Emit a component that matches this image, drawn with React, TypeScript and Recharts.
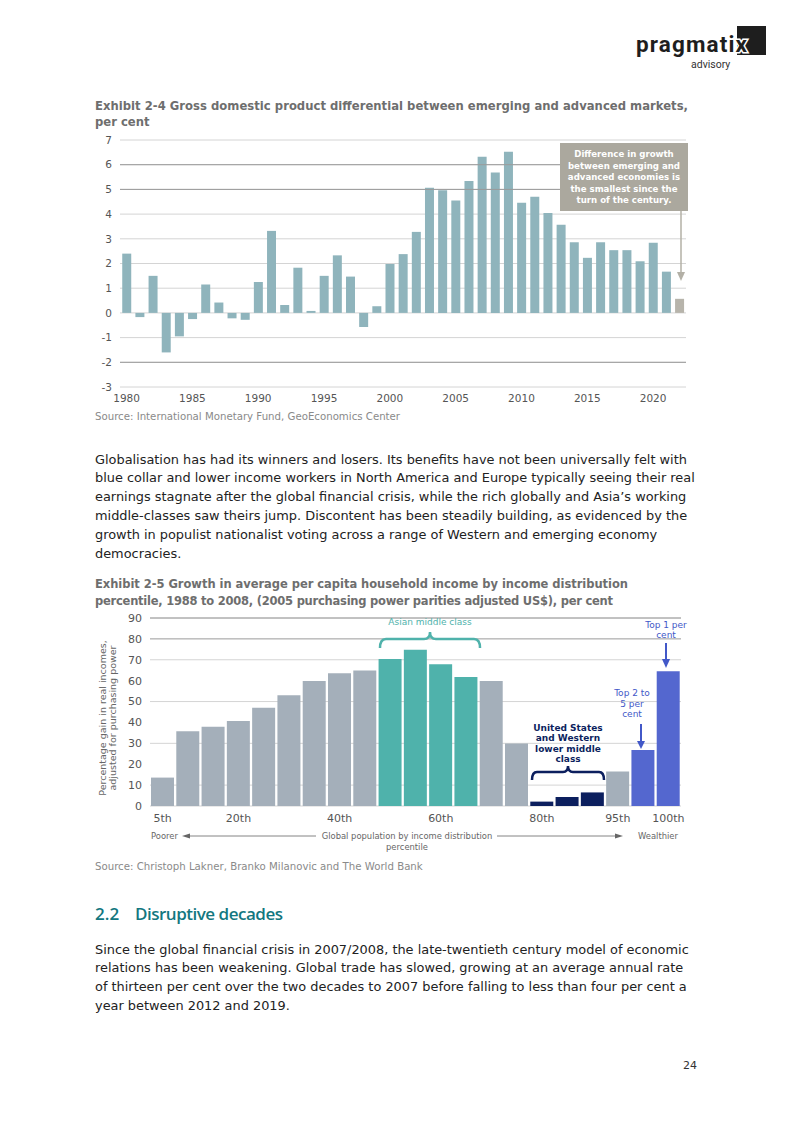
import React from "react";
import { BarChart, Bar, XAxis, YAxis, CartesianGrid, ReferenceLine, Cell } from "recharts";

// Exhibit 2-4: GDP growth differential, emerging minus advanced, per cent
const years = [
  1980, 1981, 1982, 1983, 1984, 1985, 1986, 1987, 1988, 1989,
  1990, 1991, 1992, 1993, 1994, 1995, 1996, 1997, 1998, 1999,
  2000, 2001, 2002, 2003, 2004, 2005, 2006, 2007, 2008, 2009,
  2010, 2011, 2012, 2013, 2014, 2015, 2016, 2017, 2018, 2019,
  2020, 2021, 2022,
];
const gdpDiff = [
  2.4, -0.17, 1.5, -1.6, -0.95, -0.25, 1.15, 0.42, -0.22, -0.28,
  1.25, 3.32, 0.32, 1.83, 0.08, 1.5, 2.33, 1.47, -0.57, 0.27,
  1.98, 2.38, 3.28, 5.07, 4.97, 4.55, 5.34, 6.32, 5.68, 6.52,
  4.46, 4.7, 4.04, 3.57, 2.86, 2.23, 2.86, 2.54, 2.54, 2.09,
  2.84, 1.67, 0.57,
];
const gdpYTicks = [-3, -2, -1, 0, 1, 2, 3, 4, 5, 6, 7];
const gdpXLabels = [1980, 1985, 1990, 1995, 2000, 2005, 2010, 2015, 2020];
const gdpLatest = 2022;

// Exhibit 2-5: elephant curve
const percentiles = [
  "5th", "10th", "15th", "20th", "25th", "30th", "35th", "40th", "45th", "50th",
  "55th", "60th", "65th", "70th", "75th", "80th", "85th", "90th", "95th", "99th", "100th",
];
const incomeGrowth = [
  13.6, 35.8, 37.9, 40.7, 47, 53, 59.9, 63.6, 64.9, 70.4,
  74.8, 67.9, 61.7, 59.9, 29.9, 2.1, 4.3, 6.5, 16.5, 26.8, 64.5,
];
const incomeGroup = [
  "other", "other", "other", "other", "other", "other", "other", "other", "other", "asia",
  "asia", "asia", "asia", "other", "other", "west", "west", "west", "other", "top", "top",
];
const incomeYTicks = [0, 10, 20, 30, 40, 50, 60, 70, 80, 90];
const shownPercentiles = ["5th", "20th", "40th", "60th", "80th", "95th", "100th"];

const groupColour: Record<string, string> = {
  other: "#a4afba",
  asia: "#4fb2ab",
  west: "#0c1f5e",
  top: "#5467cf",
};

const gdpData = years.map((year, i) => ({ year, value: gdpDiff[i] }));
const incomeData = percentiles.map((p, i) => ({ p, value: incomeGrowth[i], group: incomeGroup[i] }));

const FONT = "'DejaVu Sans', sans-serif";
const GREY = "#6e6e6e";
const TEXT = "#222";

const para1 = [
  "Globalisation has had its winners and losers. Its benefits have not been universally felt with",
  "blue collar and lower income workers in North America and Europe typically seeing their real",
  "earnings stagnate after the global financial crisis, while the rich globally and Asia\u2019s working",
  "middle-classes saw theirs jump. Discontent has been steadily building, as evidenced by the",
  "growth in populist nationalist voting across a range of Western and emerging economy",
  "democracies.",
];
const para2 = [
  "Since the global financial crisis in 2007/2008, the late-twentieth century model of economic",
  "relations has been weakening. Global trade has slowed, growing at an average annual rate",
  "of thirteen per cent over the two decades to 2007 before falling to less than four per cent a",
  "year between 2012 and 2019.",
];

function GdpChart() {
  return (
    <BarChart width={620} height={285} data={gdpData} margin={{ top: 8, right: 4, left: 0, bottom: 0 }} barCategoryGap="17%">
      <CartesianGrid vertical={false} stroke="#d4d4d4" />
      <XAxis
        dataKey="year"
        interval={0}
        axisLine={false}
        tickLine={false}
        height={30}
        tick={{ fontSize: 10.5, fill: "#555" }}
        tickFormatter={(v) => (gdpXLabels.includes(v) ? String(v) : "")}
      />
      <YAxis
        domain={[-3, 7]}
        ticks={gdpYTicks}
        width={50}
        axisLine={false}
        tickLine={false}
        tick={{ fontSize: 10.5, fill: "#555" }}
      />
      <ReferenceLine y={6} stroke="#9a9a9a" />
      <ReferenceLine y={5} stroke="#9a9a9a" />
      <ReferenceLine y={-2} stroke="#9a9a9a" />
      <Bar dataKey="value" isAnimationActive={false}>
        {gdpData.map((d) => (
          <Cell key={d.year} fill={d.year === gdpLatest ? "#b7b4ab" : "#8fb4bc"} />
        ))}
      </Bar>
    </BarChart>
  );
}

function IncomeChart() {
  return (
    <BarChart width={590} height={226} data={incomeData} margin={{ top: 8, right: 9, left: 0, bottom: 0 }} barCategoryGap={1}>
      <CartesianGrid vertical={false} stroke="#d4d4d4" />
      <XAxis
        dataKey="p"
        interval={0}
        axisLine={false}
        tickLine={false}
        height={30}
        tick={{ fontSize: 11, fill: "#555" }}
        tickFormatter={(v) => (shownPercentiles.includes(v) ? v : "")}
      />
      <YAxis
        domain={[0, 90]}
        ticks={incomeYTicks}
        width={50}
        axisLine={false}
        tickLine={false}
        tick={{ fontSize: 11, fill: "#555" }}
      />
      <ReferenceLine y={90} stroke="#9a9a9a" />
      <ReferenceLine y={80} stroke="#9a9a9a" />
      <Bar dataKey="value" isAnimationActive={false}>
        {incomeData.map((d) => (
          <Cell key={d.p} fill={groupColour[d.group]} />
        ))}
      </Bar>
    </BarChart>
  );
}

function Overlay() {
  const ann = { fontSize: 9, fontFamily: FONT, textAnchor: "middle" as const };
  return (
    <svg width={793} height={1122} style={{ position: "absolute", left: 0, top: 0, pointerEvents: "none" }}>
      {/* logo: the x sits in a white notch cut from the square */}
      <rect x={737} y={26} width={29} height={29} fill="#1e1e1e" />
      <text
        x={636} y={52} fontSize={22.5} fontWeight="bold" fill="#1e1e1e" fontFamily="Roboto, sans-serif"
        textLength={111} stroke="#fff" strokeWidth={3} paintOrder="stroke"
      >
        pragmatix
      </text>
      <text x={691} y={68} fontSize={10.5} fill="#333" fontFamily="Roboto, sans-serif">advisory</text>

      {/* exhibit 2-4 */}
      <g fontFamily={FONT} fontWeight="bold" fill={GREY} fontSize={11.6}>
        <text x={95} y={110} textLength={593}>Exhibit 2-4 Gross domestic product differential between emerging and advanced markets,</text>
        <text x={95} y={126}>per cent</text>
      </g>
      <rect x={560} y={143} width={128} height={68} fill="#aba89e" />
      <g {...ann} fill="#fff" fontWeight="bold" fontSize={8.6}>
        <text x={624} y={157}>Difference in growth</text>
        <text x={624} y={169}>between emerging and</text>
        <text x={624} y={180}>advanced economies is</text>
        <text x={624} y={192}>the smallest since the</text>
        <text x={624} y={203}>turn of the century.</text>
      </g>
      <line x1={681} y1={211} x2={681} y2={273} stroke="#b3b0a6" strokeWidth={1.5} />
      <polygon points="677,272 685,272 681,281" fill="#b3b0a6" />
      <text x={95} y={420} fontSize={10.2} fill="#8a8a8a" fontFamily={FONT}>Source: International Monetary Fund, GeoEconomics Center</text>

      {/* paragraph */}
      <g fontFamily={FONT} fontSize={12.9} fill={TEXT}>
        {para1.map((l, i) => (
          <text key={i} x={95} y={463.5 + i * 18.9}>{l}</text>
        ))}
      </g>

      {/* exhibit 2-5 */}
      <g fontFamily={FONT} fontWeight="bold" fill={GREY} fontSize={11.5}>
        <text x={95} y={587.5} textLength={533}>Exhibit 2-5 Growth in average per capita household income by income distribution</text>
        <text x={95} y={604.5} textLength={518}>percentile, 1988 to 2008, (2005 purchasing power parities adjusted US$), per cent</text>
      </g>
      <text transform="translate(110,718) rotate(-90)" fontSize={9.5} fill="#666" fontFamily={FONT} textAnchor="middle">
        <tspan x={0} dy={-4}>Percentage gain in real incomes,</tspan>
        <tspan x={0} dy={10}>adjusted for purchasing power</tspan>
      </text>

      <text {...ann} x={430} y={625} fill="#4fb2ab">Asian middle class</text>
      <path d="M380,648 Q380,639 386,639 L424,639 Q430,639 430,632 Q430,639 436,639 L474,639 Q480,639 480,648" fill="none" stroke="#4fb2ab" strokeWidth={2.5} />

      <g {...ann} fill="#0c1f5e" fontWeight="bold">
        <text x={568} y={731}>United States</text>
        <text x={568} y={741}>and Western</text>
        <text x={568} y={752}>lower middle</text>
        <text x={568} y={762}>class</text>
      </g>
      <path d="M532,780 Q532,772 537,772 L563,772 Q568,772 568,766 Q568,772 573,772 L599,772 Q604,772 604,780" fill="none" stroke="#0c1f5e" strokeWidth={2.5} />

      <g {...ann} fill="#4258c8">
        <text x={632} y={696}>Top 2 to</text>
        <text x={632} y={707}>5 per</text>
        <text x={632} y={717}>cent</text>
        <text x={666} y={628}>Top 1 per</text>
        <text x={666} y={638}>cent</text>
      </g>
      <line x1={641} y1={724} x2={641} y2={742} stroke="#4258c8" strokeWidth={2} />
      <polygon points="637,741 645,741 641,749" fill="#4258c8" />
      <line x1={666} y1={643} x2={666} y2={660} stroke="#4258c8" strokeWidth={2} />
      <polygon points="662,659 670,659 666,668" fill="#4258c8" />

      <g fontFamily={FONT} fontSize={8.4} fill="#666">
        <text x={151} y={839}>Poorer</text>
        <text x={407} y={839} textAnchor="middle">Global population by income distribution</text>
        <text x={407} y={850} textAnchor="middle">percentile</text>
        <text x={638} y={839}>Wealthier</text>
      </g>
      <line x1={187} y1={836} x2={316} y2={836} stroke="#666" strokeWidth={0.8} />
      <polygon points="182,836 190,833.5 190,838.5" fill="#666" />
      <line x1={497} y1={836} x2={617} y2={836} stroke="#666" strokeWidth={0.8} />
      <polygon points="623,836 615,833.5 615,838.5" fill="#666" />
      <text x={95} y={870} fontSize={10.2} fill="#8a8a8a" fontFamily={FONT}>Source: Christoph Lakner, Branko Milanovic and The World Bank</text>

      {/* section */}
      <g fontFamily="'Open Sans', sans-serif" fontWeight={600} fontSize={17} fill="#137780">
        <text x={95} y={920}>2.2</text>
        <text x={135} y={920} textLength={148}>Disruptive decades</text>
      </g>
      <g fontFamily={FONT} fontSize={12.9} fill={TEXT}>
        {para2.map((l, i) => (
          <text key={i} x={95} y={953.5 + i * 18.9}>{l}</text>
        ))}
      </g>
      <text x={683} y={1069} fontSize={11} fill="#333" fontFamily={FONT}>24</text>
    </svg>
  );
}

export default function App() {
  return (
    <div style={{ position: "absolute", left: 0, top: 0, width: 793, height: 1122, background: "#fff", fontFamily: FONT, overflow: "hidden" }}>
      <div style={{ position: "absolute", left: 70, top: 132 }}>
        <GdpChart />
      </div>
      <div style={{ position: "absolute", left: 100, top: 610 }}>
        <IncomeChart />
      </div>
      <Overlay />
    </div>
  );
}
